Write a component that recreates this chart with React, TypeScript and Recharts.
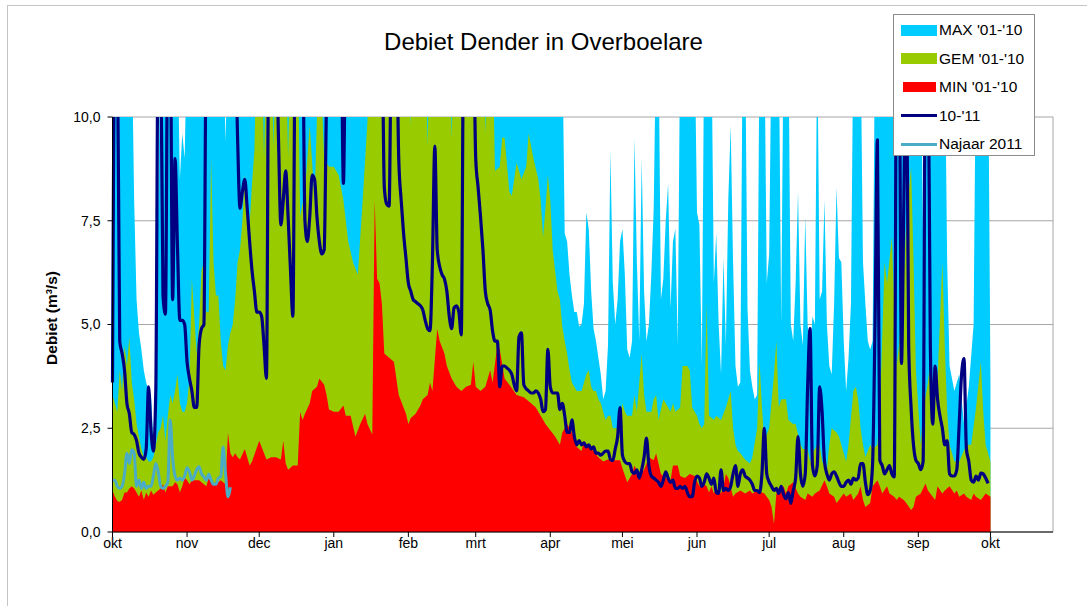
import { ComposedChart, Area, Line, XAxis, YAxis, CartesianGrid, ReferenceLine } from 'recharts';

// hydrological year okt..okt, x = day number since 1 okt
const monthDays = [0, 31, 61, 92, 123, 151, 182, 212, 243, 273, 304, 335, 365];
const monthLabels = ['okt', 'nov', 'dec', 'jan', 'feb', 'mrt', 'apr', 'mei', 'jun', 'jul', 'aug', 'sep', 'okt'];
const yTicks = [0, 2.5, 5, 7.5, 10];

// [day, m3/s], values above 10 run off the top of the plot
const maxPoints: [number, number][] = [
  [0, 3.4], [1, 12], [8, 12], [9, 8.0], [10, 5.6], [11, 4.8], [12, 4.4], [13, 3.9], [14, 3.6], [15, 3.4], [16, 3.3],
  [17, 2.2], [18, 2.3], [19, 8.0], [20, 12], [27, 12], [28, 8.5], [29, 9.6], [30, 9.0], [31, 12], [46, 12], [47, 9.4],
  [48, 12], [187, 12], [188, 7.2], [189, 7.0], [190, 6.2], [191, 5.7], [192, 5.3], [193, 5.3], [194, 4.95], [195, 5.0],
  [196, 5.5], [197, 7.7], [198, 7.3], [199, 5.8], [200, 4.9], [201, 4.6], [202, 4.2], [203, 3.8], [204, 3.2], [205, 3.4],
  [206, 4.5], [207, 9.2], [208, 6.0], [209, 5.0], [210, 5.6], [211, 7.0], [212, 7.3], [213, 6.2], [214, 4.4], [215, 4.2],
  [216, 4.6], [217, 9.5], [218, 6.5], [219, 4.6], [220, 9.0], [221, 5.8], [222, 4.6], [223, 5.0], [224, 6.2], [225, 7.8],
  [226, 12], [227, 12], [228, 5.6], [229, 6.1], [230, 7.5], [231, 8.4], [232, 5.4], [233, 7.0], [234, 7.3], [235, 4.5],
  [236, 12], [242, 12], [243, 7.7], [244, 7.4], [245, 4.0], [246, 12], [249, 12], [250, 6.0], [251, 7.2], [252, 5.0],
  [253, 3.8], [254, 6.6], [255, 4.5], [256, 8.0], [257, 9.8], [258, 6.5], [259, 4.0], [260, 3.5], [261, 3.6], [262, 12],
  [263, 12], [264, 5.4], [265, 3.9], [266, 3.5], [267, 3.2], [268, 3.3], [269, 12], [271, 12], [272, 6.0], [273, 6.7],
  [274, 12], [277, 12], [278, 5.0], [279, 12], [281, 12], [282, 5.0], [283, 4.6], [284, 6.0], [285, 8.2], [286, 5.0],
  [287, 4.5], [288, 7.6], [289, 5.0], [290, 4.2], [291, 5.2], [292, 5.0], [293, 12], [294, 5.6], [295, 5.8], [296, 8.0],
  [297, 5.0], [298, 4.0], [299, 3.8], [300, 5.5], [301, 8.3], [302, 6.6], [303, 6.5], [304, 4.6], [305, 3.4], [306, 4.2],
  [307, 5.5], [308, 12], [311, 12], [312, 6.5], [313, 5.5], [314, 4.6], [315, 4.4], [316, 4.6], [317, 12], [336, 12],
  [337, 7.0], [338, 12], [346, 12], [347, 6.5], [348, 4.0], [350, 3.4], [352, 3.8], [354, 2.6], [356, 3.5], [358, 5.0],
  [359, 12], [364, 12], [365, 3.6],
];

const gemPoints: [number, number][] = [
  [0, 3.3], [1, 3.1], [2, 2.9], [3, 3.9], [4, 3.4], [5, 4.5], [6, 4.0], [7, 4.7], [8, 3.6], [9, 3.2], [10, 2.6], [11, 2.3],
  [12, 2.0], [13, 1.8], [14, 1.8], [15, 1.7], [16, 1.7], [17, 1.8], [18, 2.1], [19, 2.4], [20, 2.5], [21, 2.8], [22, 2.2],
  [23, 2.8], [24, 3.3], [25, 3.1], [26, 3.4], [27, 3.8], [28, 3.1], [29, 2.9], [30, 2.9], [31, 3.1], [32, 3.7], [33, 6.1],
  [34, 5.2], [35, 4.3], [36, 5.0], [37, 6.3], [38, 6.5], [39, 5.3], [40, 5.3], [41, 9.0], [42, 6.5], [43, 5.7], [44, 5.7],
  [45, 4.6], [46, 4.0], [47, 3.9], [48, 4.5], [49, 4.8], [50, 5.0], [51, 5.6], [52, 6.5], [53, 6.8], [54, 7.5], [55, 8.6],
  [56, 7.8], [57, 7.4], [58, 8.4], [59, 9.2], [60, 12], [62, 12], [63, 9.0], [64, 12], [66, 12], [67, 9.3], [68, 12],
  [72, 12], [73, 9.0], [74, 12], [77, 12], [78, 7.6], [80, 8.2], [82, 9.8], [84, 8.0], [86, 12], [88, 9.0], [90, 8.8],
  [92, 8.8], [94, 8.6], [96, 8.0], [98, 7.0], [100, 6.5], [102, 6.2], [104, 8.0], [106, 9.9], [107, 12], [123, 12],
  [124, 9.8], [125, 12], [130, 12], [131, 9.3], [132, 12], [140, 12], [141, 9.5], [142, 12], [154, 12], [155, 9.6],
  [156, 12], [158, 12], [159, 8.7], [161, 8.8], [162, 9.5], [163, 9.5], [165, 8.2], [166, 8.1], [168, 8.9], [170, 8.5],
  [172, 8.8], [173, 9.6], [175, 9.0], [177, 8.5], [178, 8.0], [179, 7.1], [180, 7.8], [181, 8.6], [182, 8.0], [183, 6.8],
  [184, 6.3], [185, 5.8], [186, 5.6], [187, 4.95], [188, 4.6], [189, 4.3], [190, 3.9], [191, 3.6], [192, 3.5], [193, 3.4],
  [195, 3.4], [197, 3.8], [198, 3.9], [199, 3.5], [200, 3.4], [201, 3.4], [202, 3.2], [203, 3.1], [204, 2.9], [205, 2.7],
  [206, 2.8], [207, 2.8], [208, 2.5], [210, 2.5], [211, 2.7], [212, 3.1], [213, 2.9], [214, 2.8], [216, 2.8], [217, 3.3],
  [218, 2.9], [220, 4.3], [221, 3.3], [222, 2.9], [224, 2.9], [225, 3.2], [226, 3.3], [227, 2.7], [229, 3.2], [230, 3.1],
  [232, 2.9], [233, 3.1], [234, 2.9], [236, 3.0], [237, 4.0], [239, 4.0], [240, 3.9], [241, 3.0], [243, 2.8], [244, 2.6],
  [245, 2.5], [246, 2.6], [247, 5.5], [248, 2.8], [250, 2.7], [251, 2.8], [253, 2.7], [255, 3.0], [256, 3.2], [257, 3.4],
  [258, 2.5], [259, 2.1], [260, 1.95], [261, 1.9], [263, 1.75], [265, 1.65], [266, 1.8], [268, 2.5], [269, 4.1], [270, 3.0],
  [271, 2.2], [273, 2.5], [275, 3.8], [276, 4.6], [277, 3.0], [278, 3.2], [280, 3.2], [281, 2.7], [283, 2.6], [284, 2.6],
  [286, 2.1], [287, 2.0], [289, 2.0], [290, 1.7], [291, 1.9], [293, 2.1], [294, 2.1], [295, 1.7], [297, 1.5], [298, 2.1],
  [299, 2.5], [301, 2.4], [302, 2.3], [303, 2.1], [305, 1.7], [306, 2.1], [308, 3.4], [309, 3.5], [310, 3.2], [311, 2.5],
  [312, 2.1], [313, 1.8], [315, 2.1], [316, 2.0], [318, 2.1], [319, 2.9], [321, 6.5], [322, 6.0], [324, 7.1], [325, 5.5],
  [326, 4.0], [327, 4.5], [329, 6.2], [330, 7.5], [332, 8.8], [333, 6.6], [334, 3.9], [336, 2.1], [337, 2.9], [339, 3.6],
  [340, 4.1], [341, 2.9], [343, 3.7], [345, 6.5], [346, 4.5], [347, 2.9], [348, 2.1], [350, 1.7], [352, 1.7], [355, 2.1],
  [357, 2.1], [359, 3.0], [361, 4.1], [362, 2.9], [363, 2.1], [365, 1.7],
];

const minPoints: [number, number][] = [
  [0, 1.0], [1, 0.85], [2, 0.75], [3, 0.72], [4, 0.78], [5, 0.95], [6, 0.95], [7, 1.05], [8, 1.1], [9, 1.05], [10, 0.95],
  [11, 0.85], [12, 1.0], [13, 0.78], [14, 0.95], [15, 0.85], [16, 1.0], [17, 0.9], [18, 0.95], [19, 1.0], [20, 1.05],
  [21, 1.15], [22, 0.95], [23, 1.1], [24, 1.1], [25, 1.1], [26, 1.2], [27, 1.15], [28, 0.95], [29, 1.1], [30, 1.3],
  [31, 1.25], [32, 1.15], [33, 1.25], [34, 1.25], [35, 1.25], [36, 1.25], [37, 1.2], [38, 1.15], [39, 1.1], [40, 1.3],
  [41, 1.2], [42, 1.15], [43, 1.2], [44, 1.2], [45, 1.25], [46, 1.2], [47, 1.15], [48, 2.4], [49, 1.9], [50, 1.8],
  [51, 1.9], [52, 1.8], [53, 1.75], [55, 2.0], [57, 1.6], [58, 1.7], [61, 2.2], [63, 1.9], [64, 1.75], [66, 1.8], [68, 1.8],
  [70, 1.75], [71, 2.2], [72, 1.65], [73, 1.5], [75, 1.6], [77, 1.6], [78, 2.9], [79, 2.7], [80, 2.85], [82, 3.1],
  [83, 3.4], [85, 3.5], [86, 3.7], [88, 3.55], [89, 3.3], [90, 2.95], [92, 2.9], [94, 2.9], [96, 3.05], [97, 2.8],
  [99, 2.8], [101, 2.3], [103, 2.6], [105, 2.85], [106, 2.6], [108, 2.35], [109, 8.0], [110, 6.1], [111, 6.0], [112, 5.5],
  [113, 4.3], [115, 4.2], [117, 4.1], [118, 3.7], [119, 3.3], [121, 3.0], [122, 2.85], [123, 2.6], [124, 2.75], [126, 2.85],
  [128, 3.05], [129, 3.2], [131, 3.3], [132, 3.6], [133, 3.4], [135, 4.9], [136, 4.6], [138, 4.3], [139, 4.0], [141, 3.7],
  [143, 3.5], [145, 3.4], [147, 3.5], [149, 3.55], [150, 4.1], [151, 3.5], [153, 3.4], [155, 3.5], [157, 3.9], [158, 3.6],
  [160, 4.5], [161, 4.4], [163, 3.7], [165, 3.55], [168, 3.3], [171, 3.25], [174, 3.1], [176, 3.0], [178, 2.8], [180, 2.6],
  [182, 2.45], [184, 2.3], [186, 2.1], [187, 2.4], [189, 2.6], [191, 2.4], [193, 2.05], [195, 1.95], [196, 2.2], [198, 2.05],
  [200, 1.95], [202, 1.8], [204, 1.7], [206, 1.75], [209, 1.73], [211, 1.73], [212, 1.53], [214, 1.2], [216, 1.4],
  [217, 1.6], [219, 1.35], [221, 1.5], [223, 1.8], [225, 1.73], [226, 1.9], [228, 1.4], [230, 1.3], [232, 1.25], [233, 1.6],
  [235, 1.6], [236, 1.35], [238, 1.3], [240, 1.4], [242, 1.35], [244, 1.1], [246, 1.15], [247, 1.1], [248, 0.95], [249, 1.1],
  [250, 0.93], [251, 1.05], [253, 0.93], [254, 1.1], [255, 1.4], [256, 1.3], [258, 0.85], [259, 0.93], [261, 1.0],
  [263, 0.93], [265, 1.0], [266, 0.93], [268, 1.0], [271, 0.93], [273, 0.77], [274, 0.6], [275, 0.2], [276, 0.93], [277, 1.0],
  [279, 1.1], [280, 0.93], [281, 1.1], [283, 1.2], [285, 0.93], [286, 0.85], [288, 0.77], [289, 0.93], [291, 0.85],
  [292, 0.93], [294, 1.0], [296, 1.25], [297, 1.1], [298, 0.93], [300, 0.85], [301, 0.7], [302, 0.77], [304, 0.93],
  [305, 0.85], [307, 0.93], [308, 0.77], [309, 0.85], [310, 0.93], [311, 1.1], [312, 0.77], [313, 0.6], [315, 0.7],
  [316, 1.1], [318, 1.25], [319, 1.1], [320, 0.93], [322, 1.1], [323, 0.93], [325, 0.85], [326, 0.77], [327, 0.85],
  [329, 0.77], [330, 0.7], [332, 0.53], [333, 0.6], [334, 0.85], [336, 0.93], [338, 1.17], [339, 1.0], [341, 0.85],
  [342, 0.77], [343, 1.1], [345, 0.93], [346, 1.0], [348, 1.1], [350, 0.93], [351, 1.0], [352, 0.85], [354, 0.93],
  [355, 0.85], [357, 0.77], [358, 0.93], [359, 0.85], [361, 0.77], [362, 0.85], [363, 0.93], [365, 0.85],
];

const y1011Points: [number, number][] = [
  [0, 3.6], [1, 12], [2, 12], [3, 4.6], [4, 4.3], [5, 3.9], [6, 3.1], [7, 2.85], [8, 2.4], [9, 2.35], [10, 2.2], [11, 1.9],
  [12, 1.8], [13, 1.75], [14, 2.0], [15, 3.5], [16, 2.45], [17, 1.95], [18, 3.4], [19, 12], [20, 12], [21, 5.7],
  [22, 5.25], [23, 12], [24, 12], [25, 5.6], [26, 9.0], [27, 6.9], [28, 5.1], [29, 5.1], [30, 5.0], [31, 4.1], [32, 3.7],
  [33, 3.4], [34, 3.0], [35, 3.0], [36, 4.5], [37, 4.9], [38, 5.0], [39, 12], [51, 12], [52, 9.5], [53, 7.8], [54, 8.2],
  [55, 8.5], [56, 7.8], [57, 7.0], [58, 6.3], [59, 5.8], [60, 5.3], [61, 5.3], [62, 5.2], [63, 4.5], [64, 3.7], [65, 12],
  [68, 12], [69, 9.5], [70, 7.4], [71, 8.0], [72, 8.7], [73, 7.6], [74, 6.3], [75, 5.2], [76, 12], [79, 12], [80, 7.5],
  [81, 7.0], [82, 7.6], [83, 8.6], [84, 8.5], [85, 7.6], [86, 7.0], [87, 6.7], [88, 6.8], [89, 10.5], [90, 12], [95, 12],
  [96, 8.4], [97, 12], [112, 12], [113, 8.3], [114, 7.9], [115, 7.85], [116, 12], [118, 12], [119, 9.0], [120, 8.0],
  [121, 7.2], [122, 6.6], [123, 6.0], [124, 5.8], [125, 5.6], [126, 5.55], [127, 5.5], [128, 5.45], [129, 5.35], [130, 5.1],
  [131, 4.9], [132, 4.85], [133, 6.5], [134, 9.3], [135, 6.8], [136, 6.4], [137, 6.2], [138, 6.1], [139, 5.8], [140, 5.2],
  [141, 4.9], [142, 5.4], [143, 5.45], [144, 5.3], [145, 4.75], [146, 12], [150, 12], [151, 9.0], [152, 8.3], [153, 7.6],
  [154, 6.8], [155, 5.8], [156, 5.5], [157, 5.35], [158, 4.85], [159, 4.6], [160, 4.6], [161, 3.5], [162, 4.0], [163, 4.0],
  [164, 3.95], [165, 3.9], [166, 3.8], [167, 3.55], [168, 3.4], [169, 4.7], [170, 4.8], [171, 3.55], [172, 3.45],
  [173, 3.4], [174, 3.35], [175, 3.35], [176, 3.4], [177, 3.35], [178, 3.2], [179, 2.9], [180, 2.95], [181, 4.4], [182, 3.5],
  [183, 3.35], [184, 3.35], [185, 3.35], [186, 2.95], [187, 3.1], [188, 2.8], [189, 2.4], [190, 2.4], [191, 2.7], [192, 2.3],
  [193, 2.1], [194, 2.2], [195, 2.1], [196, 2.15], [197, 2.05], [198, 2.1], [199, 2.0], [200, 2.05], [201, 1.9], [202, 1.9],
  [203, 1.85], [204, 1.9], [205, 1.95], [206, 1.95], [207, 1.75], [208, 1.72], [209, 2.0], [210, 2.3], [211, 3.0],
  [212, 1.85], [213, 1.7], [214, 1.65], [215, 1.65], [216, 1.45], [217, 1.41], [218, 1.5], [219, 1.3], [220, 1.5],
  [221, 1.8], [222, 2.26], [223, 1.6], [224, 1.35], [225, 1.3], [226, 1.25], [227, 1.2], [228, 1.1], [229, 1.25],
  [230, 1.45], [231, 1.3], [232, 1.2], [233, 1.25], [234, 1.05], [235, 1.05], [236, 1.1], [237, 1.05], [238, 1.1],
  [239, 0.95], [240, 0.85], [241, 0.85], [242, 1.2], [243, 1.35], [244, 1.3], [245, 1.1], [246, 1.2], [247, 1.4],
  [248, 1.3], [249, 1.15], [250, 1.3], [251, 0.95], [252, 0.93], [253, 1.5], [254, 1.0], [255, 1.05], [256, 1.0],
  [257, 1.1], [258, 1.4], [259, 1.6], [260, 1.1], [261, 1.4], [262, 1.5], [263, 1.35], [264, 1.3], [265, 1.25], [266, 1.15],
  [267, 1.0], [268, 1.0], [269, 0.95], [270, 1.4], [271, 2.5], [272, 1.4], [273, 1.2], [274, 1.1], [275, 1.0], [276, 1.05],
  [277, 0.93], [278, 1.1], [279, 0.9], [280, 0.8], [281, 0.95], [282, 0.69], [283, 1.0], [284, 1.3], [285, 2.3], [286, 1.4],
  [287, 1.1], [288, 1.4], [289, 3.5], [290, 4.9], [291, 1.6], [292, 1.35], [293, 1.6], [294, 3.5], [295, 2.9], [296, 1.7],
  [297, 1.4], [298, 1.25], [299, 1.4], [300, 1.45], [301, 1.35], [302, 1.2], [303, 1.1], [304, 1.1], [305, 1.2],
  [306, 1.25], [307, 1.15], [308, 1.3], [309, 1.25], [310, 1.3], [311, 1.65], [312, 1.65], [313, 1.2], [314, 0.9],
  [315, 1.0], [316, 1.65], [317, 5.0], [318, 9.45], [319, 1.73], [320, 1.6], [321, 1.4], [322, 1.5], [323, 1.6], [324, 1.4],
  [325, 1.33], [326, 12], [327, 12], [328, 4.06], [329, 8.0], [330, 12], [331, 4.5], [332, 3.0], [333, 2.1], [334, 1.73],
  [335, 1.65], [336, 1.5], [337, 1.7], [338, 12], [339, 12], [340, 4.5], [341, 2.6], [342, 4.0], [343, 3.2], [344, 2.8],
  [345, 2.5], [346, 2.1], [347, 2.2], [348, 1.4], [349, 1.35], [350, 1.35], [351, 1.5], [352, 2.6], [353, 3.8], [354, 4.18],
  [355, 2.0], [356, 1.7], [357, 1.25], [358, 1.2], [359, 1.35], [360, 1.25], [361, 1.42], [362, 1.4], [363, 1.3],
  [364, 1.17],
];

const najaarPoints: [number, number][] = [
  [0, 1.25], [1, 1.25], [2, 1.1], [3, 1.05], [4, 1.1], [5, 1.4], [6, 1.9], [7, 1.65], [8, 1.98], [9, 1.9], [10, 1.1],
  [11, 1.25], [12, 1.05], [13, 1.2], [14, 1.05], [15, 1.1], [16, 1.1], [17, 1.35], [18, 1.65], [19, 1.45], [20, 1.1],
  [21, 1.05], [22, 1.1], [23, 1.2], [24, 2.7], [25, 1.8], [26, 1.35], [27, 1.25], [28, 1.3], [29, 1.25], [30, 1.35],
  [31, 1.55], [32, 1.45], [33, 1.25], [34, 1.35], [35, 1.5], [36, 1.57], [37, 1.4], [38, 1.33], [39, 1.25], [40, 1.4],
  [41, 1.25], [42, 1.15], [43, 1.15], [44, 1.3], [45, 1.33], [46, 2.05], [47, 1.4], [48, 0.85], [49, 1.08],
];

const toRows = (pts: [number, number][]) => pts.map(([d, v]) => ({ d, v }));

const FONT = '"Liberation Sans", Arial, sans-serif';

const legendItems = [
  { name: "MAX '01-'10", color: '#00CCFF', kind: 'area' },
  { name: "GEM '01-'10", color: '#99CC00', kind: 'area' },
  { name: "MIN '01-'10", color: '#FF0000', kind: 'min' },
  { name: "10-'11", color: '#000080', kind: 'line' },
  { name: 'Najaar 2011', color: '#4BACC6', kind: 'line' },
];

export default function App() {
  return (
    <div style={{ position: 'absolute', left: 0, top: 0, width: 1087, height: 606, fontFamily: FONT, background: '#fff' }}>
      <div style={{ position: 'absolute', left: 7, top: 5, width: 1085, height: 610, borderLeft: '1px solid #c4c4c4', borderTop: '1px solid #c4c4c4' }} />
      <ComposedChart width={1087} height={606} margin={{ top: 117, right: 34, bottom: 0, left: 0 }} style={{ position: 'absolute', left: 0, top: 0 }}>
        <CartesianGrid vertical={false} stroke="#a6a6a6" />
        <XAxis
          dataKey="d" type="number" domain={[0, 391]} ticks={monthDays} interval={0} height={74}
          tickFormatter={(v: number) => monthLabels[monthDays.indexOf(v)]}
          axisLine={{ stroke: '#000' }} tickLine={{ stroke: '#000' }} tickSize={5} tickMargin={1}
          tick={{ fontSize: 14, fill: '#000', fontFamily: FONT }}
        />
        <YAxis
          type="number" domain={[0, 10]} ticks={yTicks} allowDataOverflow width={112.5} interval={0}
          tickFormatter={(v: number) => v.toFixed(1).replace('.', ',')}
          axisLine={{ stroke: '#000' }} tickLine={{ stroke: '#000' }} tickSize={5} tickMargin={7}
          tick={{ fontSize: 14, fill: '#000', fontFamily: FONT }}
        />
        <ReferenceLine x={391} stroke="#a6a6a6" />
        <Area data={toRows(maxPoints)} dataKey="v" type="linear" fill="#00CCFF" fillOpacity={1} stroke="none" isAnimationActive={false} />
        <Area data={toRows(gemPoints)} dataKey="v" type="linear" fill="#99CC00" fillOpacity={1} stroke="none" isAnimationActive={false} />
        <Area data={toRows(minPoints)} dataKey="v" type="linear" fill="#FF0000" fillOpacity={1} stroke="none" isAnimationActive={false} />
        <Line data={toRows(y1011Points)} dataKey="v" type="monotone" stroke="#000080" strokeWidth={3.2} strokeLinejoin="round" dot={false} isAnimationActive={false} />
        <Line data={toRows(najaarPoints)} dataKey="v" type="monotone" stroke="#4BACC6" strokeWidth={3} strokeLinejoin="round" dot={false} isAnimationActive={false} />
      </ComposedChart>

      <div style={{ position: 'absolute', left: 0, top: 30, width: 1087, textAlign: 'center', fontSize: 24, lineHeight: '24px', color: '#000' }}>
        Debiet Dender in Overboelare
      </div>

      <div style={{ position: 'absolute', left: 52, top: 318, transform: 'translate(-50%, -50%) rotate(-90deg)', fontSize: 15.5, fontWeight: 'bold', whiteSpace: 'nowrap' }}>
        Debiet (m³/s)
      </div>

      <div style={{ position: 'absolute', left: 893, top: 14, width: 140, height: 140, border: '1px solid #8c8c8c', background: '#fff' }}>
        {legendItems.map((it, i) => (
          <div key={it.name} style={{ position: 'absolute', left: 0, top: 5 + i * 28.6, height: 20, width: 140, display: 'flex', alignItems: 'center' }}>
            <div style={{ width: 45, height: 20, position: 'relative' }}>
              <div
                style={{
                  position: 'absolute',
                  left: it.kind === 'min' ? 9 : 7,
                  width: it.kind === 'min' ? 33 : 36,
                  top: it.kind === 'line' ? 8.5 : it.kind === 'min' ? 5 : 4.5,
                  height: it.kind === 'line' ? 3 : it.kind === 'min' ? 10 : 11,
                  background: it.color,
                }}
              />
            </div>
            <span style={{ fontSize: 15.5, color: '#000', whiteSpace: 'nowrap' }}>{it.name}</span>
          </div>
        ))}
      </div>
    </div>
  );
}
